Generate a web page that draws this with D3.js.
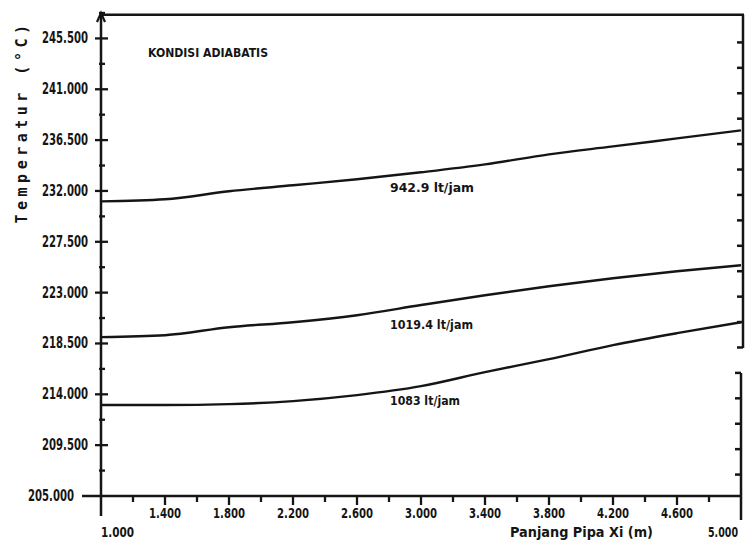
<!DOCTYPE html>
<html>
<head>
<meta charset="utf-8">
<script src="https://cdn.jsdelivr.net/npm/d3@7"></script>
<style>
  body { margin: 0; background: #fff; }
  svg text { font-family: "DejaVu Sans", sans-serif; font-stretch: condensed; font-weight: bold; fill: #151515; }
</style>
</head>
<body>
<script>
// panjang pipa (m) vs temperatur (C), kondisi adiabatis
var panjang = [1.0, 1.4, 1.8, 2.2, 2.6, 3.0, 3.4, 3.8, 4.2, 4.6, 5.0];
var suhu942 = [231.08, 231.26, 231.97, 232.50, 233.03, 233.65, 234.35, 235.24, 235.94, 236.65, 237.36];
var suhu1019 = [219.06, 219.23, 219.94, 220.38, 221.00, 221.90, 222.77, 223.57, 224.27, 224.89, 225.42];
var suhu1083 = [213.05, 213.05, 213.13, 213.40, 213.93, 214.72, 215.96, 217.11, 218.35, 219.41, 220.38];
var debit = ["942.9 lt/jam", "1019.4 lt/jam", "1083 lt/jam"];

var yTicks = [205.0, 209.5, 214.0, 218.5, 223.0, 227.5, 232.0, 236.5, 241.0, 245.5];
var yTickLabels = ["205.000", "209.500", "214.000", "218.500", "223.000", "227.500", "232.000", "236.500", "241.000", "245.500"];
var xTicks = [1.4, 1.8, 2.2, 2.6, 3.0, 3.4, 3.8, 4.2, 4.6];
var xTickLabels = ["1.400", "1.800", "2.200", "2.600", "3.000", "3.400", "3.800", "4.200", "4.600"];

var svg = d3.select("body").append("svg")
    .attr("width", 752)
    .attr("height", 545);

var x = d3.scaleLinear().domain([1, 5]).range([101, 741]);
var y = d3.scaleLinear().domain([205, 247.75]).range([496, 13]);

var ink = "#151515";

// frame: top border and right axis (right one has a break like the print)
svg.append("line").attr("x1", x(1)).attr("x2", x(5) + 3).attr("y1", y(247.6)).attr("y2", y(247.6))
    .attr("stroke", ink).attr("stroke-width", 2.5);
svg.append("line").attr("x1", x(5) + 2).attr("x2", x(5) + 2).attr("y1", y(247.6)).attr("y2", 348)
    .attr("stroke", ink).attr("stroke-width", 2.5);
svg.append("line").attr("x1", x(5)).attr("x2", x(5)).attr("y1", 373).attr("y2", 520)
    .attr("stroke", ink).attr("stroke-width", 2.5);

// right side inward ticks every 2.25
var rightTicks = d3.range(0, 20).map(d => 205 + d * 2.25).filter(v => v > 206 && v < 247);
svg.selectAll(".rt").data(rightTicks).enter().append("line")
    .attr("x1", d => y(d) < 360 ? x(5) + 2 : x(5))
    .attr("x2", d => (y(d) < 360 ? x(5) + 2 : x(5)) - 6)
    .attr("y1", d => y(d) + 4).attr("y2", d => y(d) + 4)
    .attr("stroke", ink).attr("stroke-width", 2.5);

// left axis with arrow
svg.append("line").attr("x1", x(1)).attr("x2", x(1)).attr("y1", y(247.75)).attr("y2", 516)
    .attr("stroke", ink).attr("stroke-width", 2.5);
svg.append("path")
    .attr("d", `M${x(1) - 4},${y(247.75) + 9} L${x(1)},${y(247.75)} L${x(1) + 4},${y(247.75) + 9}`)
    .attr("fill", "none").attr("stroke", ink).attr("stroke-width", 2.2);

// y ticks: major cross + minor marks
svg.selectAll(".ymaj").data(yTicks.slice(1)).enter().append("line")
    .attr("x1", x(1) - 6).attr("x2", x(1) + 7)
    .attr("y1", d => y(d)).attr("y2", d => y(d))
    .attr("stroke", ink).attr("stroke-width", 2.3);
svg.selectAll(".ymin").data(yTicks.map(d => d + 2.25)).enter().append("line")
    .attr("x1", x(1) - 2).attr("x2", x(1) + 4)
    .attr("y1", d => y(d)).attr("y2", d => y(d))
    .attr("stroke", ink).attr("stroke-width", 2.3);
svg.selectAll(".ylab").data(yTicks).enter().append("text")
    .attr("x", (d, i) => i == 0 ? 74 : 88).attr("y", d => y(d) + 5)
    .attr("text-anchor", "end").attr("font-size", 15)
    .attr("textLength", 46).attr("lengthAdjust", "spacingAndGlyphs")
    .text((d, i) => yTickLabels[i]);

// x axis
svg.append("line").attr("x1", 82).attr("x2", x(5)).attr("y1", y(205)).attr("y2", y(205))
    .attr("stroke", ink).attr("stroke-width", 2.5);
var xAll = d3.range(1, 20).map(d => 1 + d * 0.2);
svg.selectAll(".xt").data(xAll).enter().append("line")
    .attr("x1", d => x(d)).attr("x2", d => x(d))
    .attr("y1", y(205)).attr("y2", (d, i) => y(205) + (i % 2 == 1 ? 9 : 6))
    .attr("stroke", ink).attr("stroke-width", 2.3);
svg.selectAll(".xlab").data(xTicks).enter().append("text")
    .attr("x", d => x(d)).attr("y", 518)
    .attr("text-anchor", "middle").attr("font-size", 14)
    .attr("textLength", 32).attr("lengthAdjust", "spacingAndGlyphs")
    .text((d, i) => xTickLabels[i]);
svg.append("text").attr("x", x(1)).attr("y", 537).attr("font-size", 14)
    .attr("textLength", 33).attr("lengthAdjust", "spacingAndGlyphs").text("1.000");
svg.append("text").attr("x", x(5) - 3).attr("y", 537).attr("text-anchor", "end").attr("font-size", 14)
    .attr("textLength", 30).attr("lengthAdjust", "spacingAndGlyphs").text("5.000");
svg.append("text").attr("x", 510).attr("y", 537).attr("font-size", 14)
    .attr("textLength", 143).attr("lengthAdjust", "spacingAndGlyphs")
    .text("Panjang Pipa Xi (m)");

// titles
svg.append("text").attr("x", 148).attr("y", 57).attr("font-size", 13)
    .attr("textLength", 120).attr("lengthAdjust", "spacingAndGlyphs")
    .text("KONDISI ADIABATIS");
svg.append("text")
    .attr("transform", "translate(27,122) rotate(-90)")
    .attr("text-anchor", "middle")
    .attr("font-size", 15)
    .attr("letter-spacing", 4.5)
    .style("font-family", "'DejaVu Sans Mono', monospace")
    .style("font-stretch", "normal")
    .text("Temperatur (°C)");

// curves
var series = [suhu942, suhu1019, suhu1083];
var line = d3.line()
    .x((d, i) => x(panjang[i]))
    .y(d => y(d))
    .curve(d3.curveMonotoneX);

svg.selectAll(".curve").data(series).enter().append("path")
    .attr("d", d => line(d))
    .attr("fill", "none")
    .attr("stroke", ink)
    .attr("stroke-width", 2.4);

var labelDy = [16, 19, 14];
var labelLen = [84, 83, 70];
svg.selectAll(".slab").data(series).enter().append("text")
    .attr("x", x(2.8) + 1)
    .attr("y", (d, i) => y((d[4] + d[5]) / 2) + labelDy[i])
    .attr("font-size", 13)
    .attr("textLength", (d, i) => labelLen[i]).attr("lengthAdjust", "spacingAndGlyphs")
    .text((d, i) => debit[i]);
</script>
</body>
</html>
